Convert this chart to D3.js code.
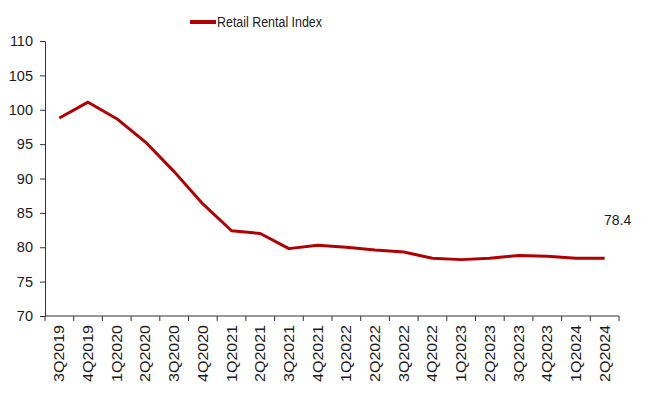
<!DOCTYPE html>
<html>
<head>
<meta charset="utf-8">
<script src="https://cdn.jsdelivr.net/npm/d3@7"></script>
<style>
  body { margin: 0; background: #fff; }
  text { font-family: "Liberation Sans", Arial, sans-serif; fill: #1a1a1a; }
</style>
</head>
<body>
<div id="chart"></div>
<script>
var quarters = ["3Q2019","4Q2019","1Q2020","2Q2020","3Q2020","4Q2020","1Q2021","2Q2021","3Q2021","4Q2021",
                "1Q2022","2Q2022","3Q2022","4Q2022","1Q2023","2Q2023","3Q2023","4Q2023","1Q2024","2Q2024"];
var rentalIndex = [98.8, 101.1, 98.7, 95.3, 91.0, 86.3, 82.4, 82.0, 79.8, 80.3,
                   80.0, 79.6, 79.3, 78.4, 78.2, 78.4, 78.8, 78.7, 78.4, 78.4];
var yTicks = [70, 75, 80, 85, 90, 95, 100, 105, 110];
var seriesName = "Retail Rental Index";

var margin = {top: 41, right: 31, bottom: 77, left: 45},
    width = 650 - margin.left - margin.right,
    height = 393 - margin.top - margin.bottom;

var svg = d3.select("#chart").append("svg")
    .attr("width", 650)
    .attr("height", 393)
    .append("g")
    .attr("transform", "translate(" + margin.left + "," + margin.top + ")");

var x_scale = d3.scaleBand()
    .domain(quarters)
    .range([0, width]);

var y_scale = d3.scaleLinear()
    .domain([70, 110])
    .range([height, 0]);

// y axis
var yAxis = svg.append("g")
    .call(d3.axisLeft(y_scale).tickValues(yTicks).tickSize(5).tickPadding(7).tickSizeOuter(0));
yAxis.selectAll("text").style("font-size", "14.5px");

// x axis, ticks on band edges
var xAxis = svg.append("g")
    .attr("transform", "translate(0," + height + ")");
xAxis.append("line")
    .attr("x1", 0).attr("x2", width)
    .attr("stroke", "#333");
xAxis.selectAll(".edge")
    .data(d3.range(quarters.length + 1))
    .enter().append("line")
    .attr("x1", function(i) { return i * x_scale.step(); })
    .attr("x2", function(i) { return i * x_scale.step(); })
    .attr("y1", 0).attr("y2", 5)
    .attr("stroke", "#333");
xAxis.selectAll(".lbl")
    .data(quarters)
    .enter().append("text")
    .attr("transform", function(d) {
        return "translate(" + (x_scale(d) + x_scale.bandwidth() / 2 + 5) + ",9) rotate(-90)";
    })
    .attr("text-anchor", "end")
    .attr("textLength", 57)
    .attr("lengthAdjust", "spacingAndGlyphs")
    .style("font-size", "14px")
    .text(function(d) { return d; });

svg.selectAll(".domain").attr("stroke", "#333");
svg.selectAll(".tick line").attr("stroke", "#333");

// line
var pts = quarters.map(function(q, i) { return {q: q, v: rentalIndex[i]}; });
svg.append("path")
    .datum(pts)
    .attr("fill", "none")
    .attr("stroke", "#b00000")
    .attr("stroke-width", 3)
    .attr("stroke-linejoin", "round")
    .attr("d", d3.line()
        .x(function(d) { return x_scale(d.q) + x_scale.bandwidth() / 2; })
        .y(function(d) { return y_scale(d.v); }));

// last value label
var last = pts[pts.length - 1];
svg.append("text")
    .attr("x", x_scale(last.q) + x_scale.bandwidth() / 2 + 13)
    .attr("y", y_scale(last.v) - 33)
    .attr("text-anchor", "middle")
    .style("font-size", "14px")
    .text(last.v.toFixed(1));

// legend
var legend = svg.append("g").attr("transform", "translate(" + (190 - margin.left) + "," + (22 - margin.top) + ")");
legend.append("line")
    .attr("x1", 0).attr("x2", 26)
    .attr("stroke", "#b00000")
    .attr("stroke-width", 4);
legend.append("text")
    .attr("x", 27).attr("y", 5)
    .attr("textLength", 105)
    .attr("lengthAdjust", "spacingAndGlyphs")
    .style("font-size", "14px")
    .text(seriesName);
</script>
</body>
</html>
